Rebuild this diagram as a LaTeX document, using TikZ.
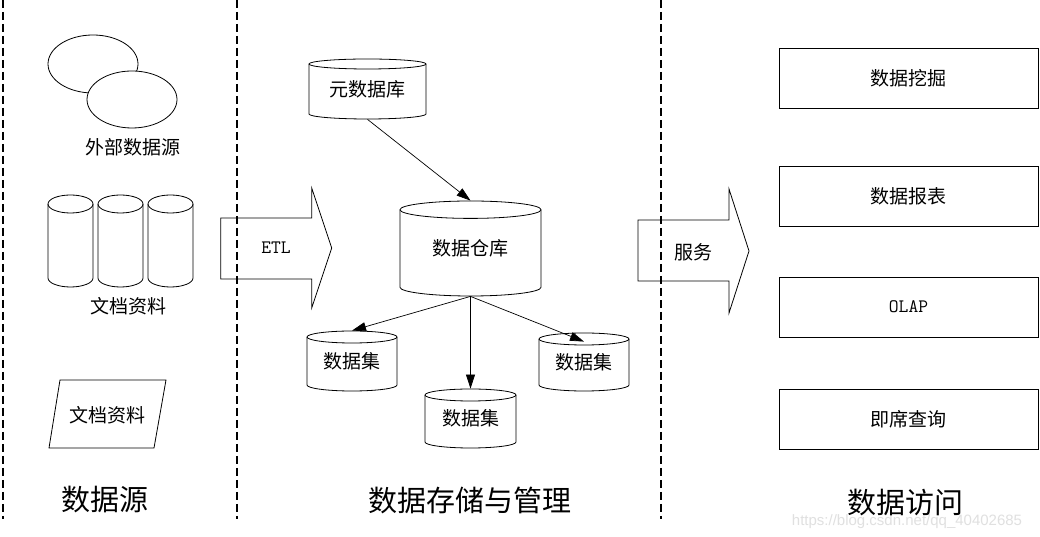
\documentclass[tikz,border=0pt]{standalone}
\usepackage{fontspec}
\setmainfont{Liberation Serif}
\newfontfamily\cjk{Noto Sans CJK SC}
\newfontfamily\wmfont{Liberation Sans}
\usetikzlibrary{arrows.meta,shapes.geometric}
% name, cx, cy, width, height, cap radius, text
\newcommand\mycyl[7]{%
  \draw[fill=white] ({#2-#4/2},{#3+#5/2-#6}) -- ({#2-#4/2},{#3-#5/2+#6})
     arc[start angle=180,end angle=360,x radius={#4/2},y radius=#6]
     -- ({#2+#4/2},{#3+#5/2-#6})
     arc[start angle=0,end angle=180,x radius={#4/2},y radius=#6] -- cycle;
  \draw ({#2-#4/2},{#3+#5/2-#6}) arc[start angle=180,end angle=360,x radius={#4/2},y radius=#6];
  \node[lbl, minimum width=#4pt, minimum height=#5pt] (#1) at (#2,#3) {#7};
}
\begin{document}
\begin{tikzpicture}[x=1pt,y=1pt,line width=0.8pt,
  lbl/.style={font=\cjk\fontsize{19}{22}\selectfont, inner sep=0pt},
  big/.style={font=\cjk\fontsize{29}{32}\selectfont, inner sep=0pt},
  latin/.style={font=\ttfamily\fontsize{19}{22}\selectfont, inner sep=0pt},
  box/.style={draw, minimum width=259pt, minimum height=60pt, inner sep=0pt},
  sep/.style={dash pattern=on 8pt off 4pt, line width=1.1pt},
  arr/.style={-{Triangle[length=14pt,width=9pt]}, line width=0.7pt}]
\useasboundingbox (0,0) rectangle (1040,537);
\fill[white] (0,0) rectangle (1040,537);

% watermark
\node[font=\wmfont\fontsize{15}{17}\selectfont, text=black!12, inner sep=0pt] (wm) at (907,15) {https://blog.csdn.net/qq\_40402685};

% external data source
\node[draw, ellipse, minimum width=90pt, minimum height=58pt, inner sep=0pt] (e1) at (93,473) {};
\node[draw, ellipse, fill=white, minimum width=90pt, minimum height=57pt, inner sep=0pt] (e2) at (132,437.5) {};
\node[lbl] (ext) at (133,390) {外部数据源};

% document cylinders
\mycyl{c1}{70.5}{296}{45}{92}{9}{}
\mycyl{c2}{120.5}{296}{45}{92}{9}{}
\mycyl{c3}{170.5}{296}{45}{92}{9}{}
\node[lbl] (docs) at (128,231) {文档资料};

% parallelogram
\draw (60,157) -- (166,157) -- (154,89) -- (49,89) -- cycle;
\node[lbl] (doc2) at (107,122) {文档资料};

\node[big] (t1) at (105,37) {数据源};

% ETL arrow
\draw (220.7,319) -- (311.7,319) -- (311.7,349) -- (331.7,289) -- (311.7,229) -- (311.7,258) -- (220.7,258) -- cycle;
\node[latin] (etl) at (276,289) {ETL};

% storage
\mycyl{meta}{367.5}{448}{117}{60}{5}{元数据库}
\mycyl{dw}{470.5}{288.5}{141}{95}{8.7}{数据仓库}
\mycyl{ds1}{352}{176}{90}{60}{6}{数据集}
\mycyl{ds2}{470.5}{118.5}{91}{59}{6}{数据集}
\mycyl{ds3}{584}{175}{90}{58}{6}{数据集}

\draw[arr] (meta.south) -- (dw.north);
\draw[arr] (dw.south) -- (ds1.north);
\draw[arr] (dw.south) -- (ds2.north);
\draw[arr] (dw.south) -- ([yshift=-9pt]ds3.north);

\node[big] (t2) at (470,37) {数据存储与管理};

% service arrow
\draw (638,317) -- (729,317) -- (729,348) -- (749,286) -- (729,224) -- (729,256) -- (638,256) -- cycle;
\node[lbl] (svc) at (693,285) {服务};

% access boxes
\node[box,lbl] (b1) at (908.5,459) {数据挖掘};
\node[box,lbl] (b2) at (908.5,341) {数据报表};
\node[box,latin] (b3) at (908.5,230) {OLAP};
\node[box,lbl] (b4) at (908.5,118) {即席查询};

\node[big] (t3) at (905,34) {数据访问};

% separators
\draw[sep] (3,537) -- (3,18);
\draw[sep] (237,537) -- (237,18);
\draw[sep] (661,537) -- (661,18);
\end{tikzpicture}
\end{document}
